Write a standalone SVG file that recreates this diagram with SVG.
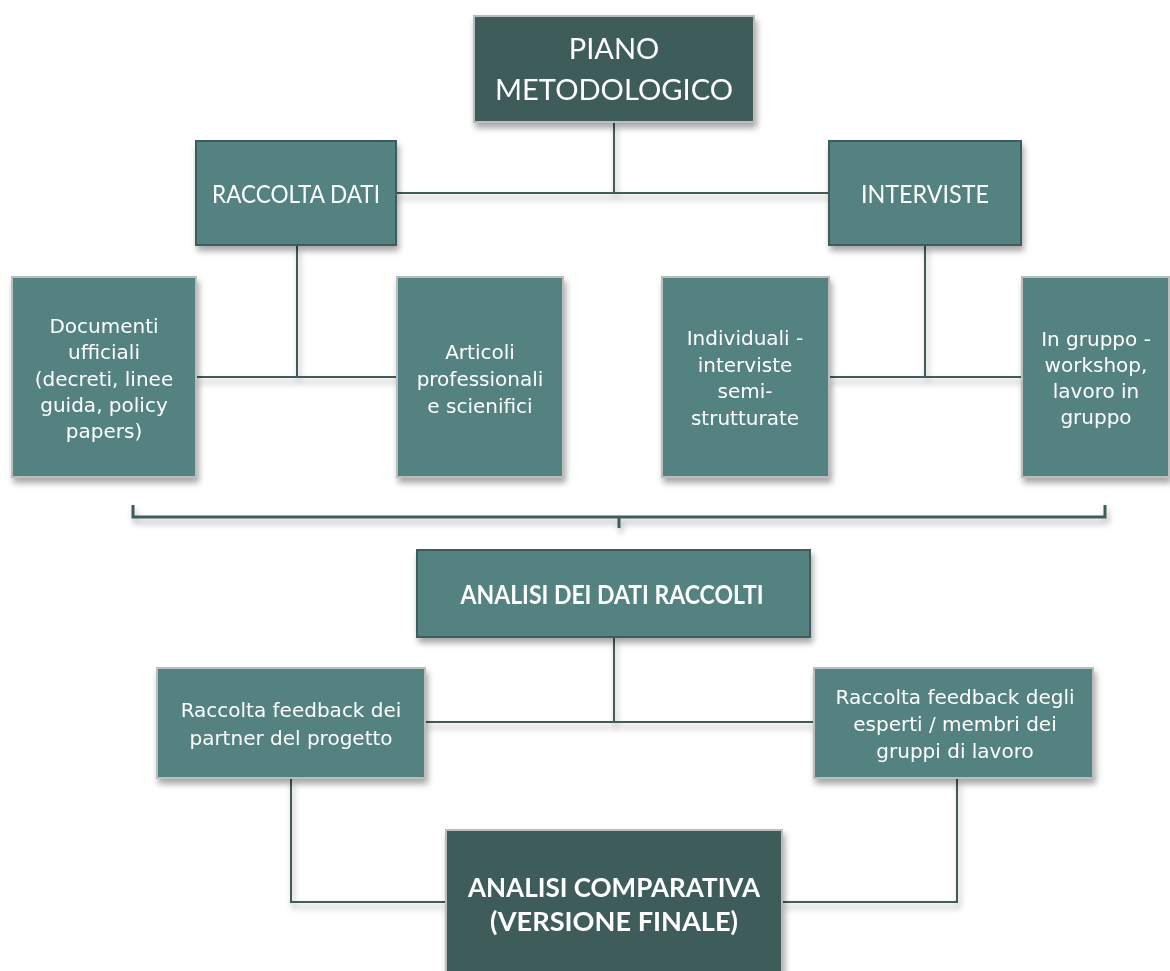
<svg xmlns="http://www.w3.org/2000/svg" width="1170" height="971" viewBox="0 0 1170 971">
<defs>
<filter id="sh" x="-10%" y="-10%" width="125%" height="130%">
<feGaussianBlur in="SourceAlpha" stdDeviation="3"/>
<feOffset dx="2" dy="5" result="b"/>
<feComponentTransfer><feFuncA type="linear" slope="0.35"/></feComponentTransfer>
<feMerge><feMergeNode/><feMergeNode in="SourceGraphic"/></feMerge>
</filter>
<style>
.dark{fill:#3d5c5a;stroke:#b9bdbc;stroke-width:2}
.mid{fill:#528280;stroke:#b9bdbc;stroke-width:2}
.midb{fill:#528280;stroke:#3d5c5a;stroke-width:2}
.h{font-family:Lato,"Liberation Sans",sans-serif;fill:#ffffff;text-anchor:middle}
.b{font-family:"DejaVu Sans","Liberation Sans",sans-serif;fill:#ffffff;text-anchor:middle;font-size:20px}
.ln{fill:none;stroke:#3d5c5a;stroke-width:2}
.br{fill:none;stroke:#3d5c5a;stroke-width:3}
</style>
</defs>
<rect width="1170" height="971" fill="#ffffff"/>
<g id="connectors" filter="url(#sh)">
<path class="ln" d="M614 122V193M396 193H829"/>
<path class="ln" d="M297 245V377M196 377H397"/>
<path class="ln" d="M925 245V377M829 377H1022"/>
<path class="br" d="M133 505V517H1105V505M619 517V528"/>
<path class="ln" d="M614 637V722M425 722H814"/>
<path class="ln" d="M291 778V902H446M957 778V902H782"/>
</g>
<g id="piano" filter="url(#sh)">
<rect class="dark" x="474" y="16" width="280" height="106"/>
<text class="h" x="614" y="59" font-size="29">PIANO</text>
<text class="h" x="614" y="100" font-size="29" textLength="238" lengthAdjust="spacingAndGlyphs">METODOLOGICO</text>
</g>
<g id="raccolta" filter="url(#sh)">
<rect class="midb" x="196" y="141" width="200" height="104"/>
<text class="h" x="296" y="203" font-size="25" textLength="168" lengthAdjust="spacingAndGlyphs">RACCOLTA DATI</text>
</g>
<g id="interviste" filter="url(#sh)">
<rect class="midb" x="829" y="141" width="192" height="104"/>
<text class="h" x="925" y="203" font-size="25" textLength="128" lengthAdjust="spacingAndGlyphs">INTERVISTE</text>
</g>
<g id="documenti" filter="url(#sh)">
<rect class="mid" x="12" y="277" width="184" height="200"/>
<text class="b" x="104" y="333">Documenti</text>
<text class="b" x="104" y="359">ufficiali</text>
<text class="b" x="104" y="386">(decreti, linee</text>
<text class="b" x="104" y="412">guida, policy</text>
<text class="b" x="104" y="438">papers)</text>
</g>
<g id="articoli" filter="url(#sh)">
<rect class="mid" x="397" y="277" width="166" height="200"/>
<text class="b" x="480" y="359">Articoli</text>
<text class="b" x="480" y="386">professionali</text>
<text class="b" x="480" y="413">e scienifici</text>
</g>
<g id="individuali" filter="url(#sh)">
<rect class="mid" x="662" y="277" width="167" height="200"/>
<text class="b" x="745" y="345">Individuali  -</text>
<text class="b" x="745" y="372">interviste</text>
<text class="b" x="745" y="398">semi-</text>
<text class="b" x="745" y="425">strutturate</text>
</g>
<g id="gruppo" filter="url(#sh)">
<rect class="mid" x="1022" y="277" width="147" height="200"/>
<text class="b" x="1096" y="346">In gruppo -</text>
<text class="b" x="1096" y="372">workshop,</text>
<text class="b" x="1096" y="398">lavoro in</text>
<text class="b" x="1096" y="424">gruppo</text>
</g>
<g id="analisi" filter="url(#sh)">
<rect class="midb" x="417" y="550" width="393" height="87"/>
<text class="h" x="612" y="604" font-size="27" font-weight="bold" textLength="303" lengthAdjust="spacingAndGlyphs">ANALISI DEI DATI RACCOLTI</text>
</g>
<g id="feedback-partner" filter="url(#sh)">
<rect class="mid" x="157" y="668" width="268" height="110"/>
<text class="b" x="291" y="717">Raccolta feedback dei</text>
<text class="b" x="291" y="745">partner del progetto</text>
</g>
<g id="feedback-esperti" filter="url(#sh)">
<rect class="mid" x="814" y="668" width="279" height="110"/>
<text class="b" x="955" y="704">Raccolta feedback degli</text>
<text class="b" x="955" y="731">esperti / membri dei</text>
<text class="b" x="955" y="758">gruppi di lavoro</text>
</g>
<g id="comparativa" filter="url(#sh)">
<rect class="dark" x="446" y="830" width="336" height="150"/>
<text class="h" x="614" y="897" font-size="27" font-weight="bold" textLength="292" lengthAdjust="spacingAndGlyphs">ANALISI COMPARATIVA</text>
<text class="h" x="614" y="931" font-size="27" font-weight="bold" textLength="248" lengthAdjust="spacingAndGlyphs">(VERSIONE FINALE)</text>
</g>
</svg>
